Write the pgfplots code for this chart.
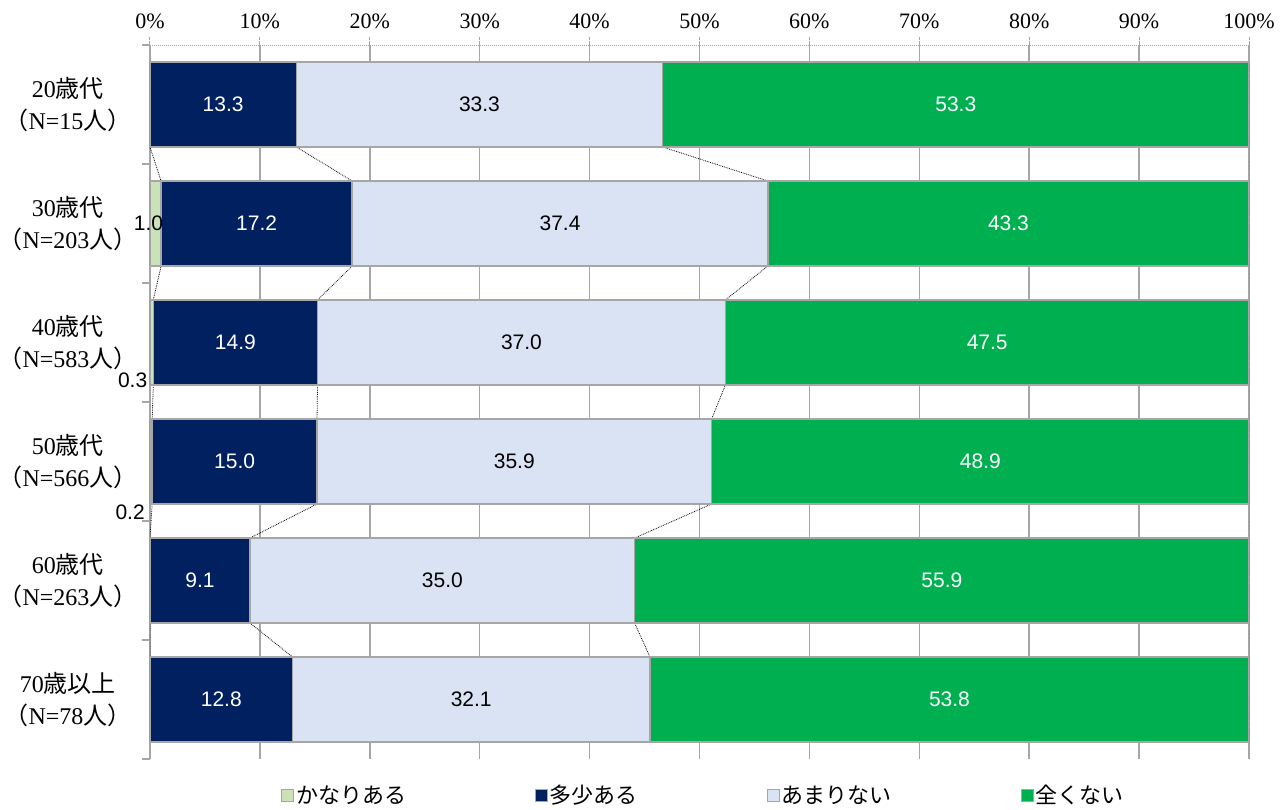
\documentclass[border=0pt]{standalone}
\usepackage{fontspec}
\setmainfont{Liberation Serif}
\newfontfamily\cjk{Noto Sans CJK JP}
\newfontfamily\lsans{Liberation Sans}
\usepackage{pgfplots}
\usepackage{pgfplotstable}
\pgfplotsset{compat=1.18}

\definecolor{cA}{HTML}{C9E2B8}
\definecolor{cB}{HTML}{002060}
\definecolor{cC}{HTML}{DAE3F3}
\definecolor{cD}{HTML}{00B050}
\definecolor{edge}{HTML}{A6A6A6}

% each group twice: pos = top / bottom edge of the bar (for the series lines)
\pgfplotstableread{
cat pos a b c d dx dy
5 5.357 0 13.3 33.3 53.3 0 0
5 4.643 0 13.3 33.3 53.3 0 0
4 4.357 1.0 17.2 37.4 43.3 -7 0
4 3.643 1.0 17.2 37.4 43.3 -7 0
3 3.357 0.3 14.9 37.0 47.5 -19 -38
3 2.643 0.3 14.9 37.0 47.5 -19 -38
2 2.357 0.2 15.0 35.9 48.9 -21 -51
2 1.643 0.2 15.0 35.9 48.9 -21 -51
1 1.357 0 9.1 35.0 55.9 0 0
1 0.643 0 9.1 35.0 55.9 0 0
0 0.357 0 12.8 32.1 53.8 0 0
0 -0.357 0 12.8 32.1 53.8 0 0
}\data

\newcommand\tot{(\thisrow{a}+\thisrow{b}+\thisrow{c}+\thisrow{d})}
\newcommand\cl[3]{#1{\cjk #2}\\{\cjk （}N=#3{\cjk 人）}}

\pgfplotsset{
  mybar/.style={xbar, bar width=0.714, bar shift=0pt, draw=edge, line width=1.6pt,
    each nth point=2, filter discard warning=false,
    legend image code/.code={\draw[##1,/tikz/.cd,line width=0.8pt] (0pt,-6pt) rectangle (12pt,6pt);}},
  serline/.style={densely dotted, black, line width=0.8pt, forget plot},
  lab/.style={only marks, mark=none, forget plot, each nth point=2, filter discard warning=false,
    nodes near coords={\pgfmathprintnumber[fixed,fixed zerofill,precision=1,assume math mode=true]{\pgfplotspointmeta}},
    nodes near coords style={anchor=center, font=\lsans\fontsize{21}{24}\selectfont, #1}},
}

\begin{document}
\begin{tikzpicture}
\useasboundingbox (-150pt,-50pt) rectangle (1137pt,759pt);
\begin{axis}[
  at={(0,0)}, anchor=south west,
  scale only axis, width=1099pt, height=714pt,
  xmin=0, xmax=100, ymin=-0.5, ymax=5.5,
  axis x line*=top, axis y line*=left,
  xtick={0,10,...,100},
  xticklabel={\pgfmathprintnumber[assume math mode=true]{\tick}\%},
  xticklabel pos=right, xtick pos=right,
  xticklabel style={font=\fontsize{22}{26}\selectfont, yshift=5pt},
  ytick={0,1,2,3,4,5}, ytick pos=left,
  yticklabels={{\cl{70}{歳以上}{78}},{\cl{60}{歳代}{263}},{\cl{50}{歳代}{566}},
               {\cl{40}{歳代}{583}},{\cl{30}{歳代}{203}},{\cl{20}{歳代}{15}}},
  yticklabel style={align=center, anchor=center, xshift=-74pt, font=\fontsize{24}{32}\selectfont},
  minor ytick={-0.5,0.5,1.5,2.5,3.5,4.5,5.5},
  tick align=outside, major tick length=8pt, minor tick length=8pt,
  major y tick style={draw=none},
  minor y tick style={edge, line width=1.5pt},
  xtick style={edge, densely dotted, line width=1pt},
  x axis line style={edge, densely dotted, line width=1pt},
  y axis line style={edge, line width=1.5pt},
  xmajorgrids, major grid style={edge, line width=1.5pt, solid},
  reverse legend,
  legend columns=4,
  legend style={at={(0.5,0)}, anchor=north, xshift=4pt, yshift=-22pt, draw=none, fill=none,
    font=\cjk\fontsize{22}{26}\selectfont,
    /tikz/every even column/.append style={column sep=127pt}},
]
% series lines
\addplot[serline] table[y=pos, x expr={\thisrow{a}*100/\tot}] {\data};
\addplot[serline] table[y=pos, x expr={(\thisrow{a}+\thisrow{b})*100/\tot}] {\data};
\addplot[serline] table[y=pos, x expr={(\thisrow{a}+\thisrow{b}+\thisrow{c})*100/\tot}] {\data};
\addplot[serline] table[y=pos, x expr={\tot*100/\tot}] {\data};

% bars, drawn from the longest cumulative length down
\addplot[mybar, fill=cD] table[y=cat, x expr={\tot*100/\tot}] {\data};
\addlegendentry{全くない}
\addplot[mybar, fill=cC] table[y=cat, x expr={(\thisrow{a}+\thisrow{b}+\thisrow{c})*100/\tot}] {\data};
\addlegendentry{あまりない}
\addplot[mybar, fill=cB] table[y=cat, x expr={(\thisrow{a}+\thisrow{b})*100/\tot}] {\data};
\addlegendentry{多少ある}
\addplot[mybar, fill=cA] table[y=cat, x expr={\thisrow{a}*100/\tot}] {\data};
\addlegendentry{かなりある}

% value labels
\addplot[lab={black, xshift=\dx pt, yshift=\dy pt}, point meta={\thisrow{a}},
  visualization depends on={\thisrow{dx} \as \dx},
  visualization depends on={\thisrow{dy} \as \dy},
  restrict expr to domain={\thisrow{a}}{0.05:200}]
  table[y=cat, x expr={(\thisrow{a}/2)*100/\tot}] {\data};
\addplot[lab={white}, point meta={\thisrow{b}}]
  table[y=cat, x expr={(\thisrow{a}+\thisrow{b}/2)*100/\tot}] {\data};
\addplot[lab={black}, point meta={\thisrow{c}}]
  table[y=cat, x expr={(\thisrow{a}+\thisrow{b}+\thisrow{c}/2)*100/\tot}] {\data};
\addplot[lab={white}, point meta={\thisrow{d}}]
  table[y=cat, x expr={(\thisrow{a}+\thisrow{b}+\thisrow{c}+\thisrow{d}/2)*100/\tot}] {\data};
\end{axis}
\end{tikzpicture}
\end{document}
